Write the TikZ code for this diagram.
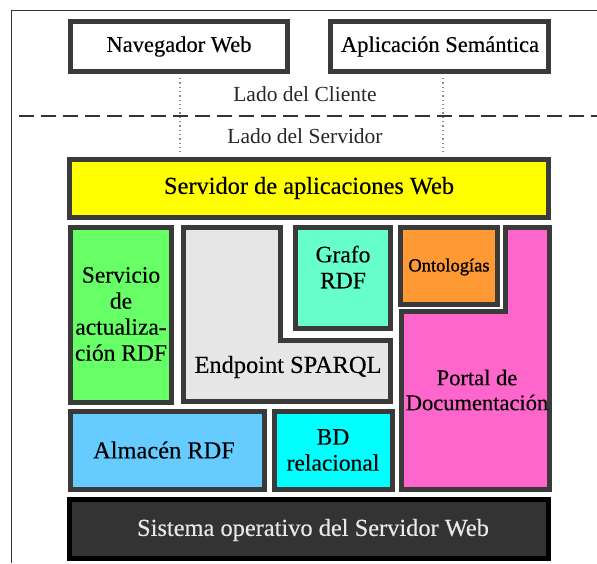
\documentclass[tikz,border=0pt]{standalone}
\usepackage{fontspec}
\setmainfont{Liberation Serif}
\newfontfamily\labelfont{Liberation Serif}[FakeBold=0.35]
\newfontfamily\heavyfont{Liberation Serif}[FakeBold=1.1]
\definecolor{edge}{HTML}{3A3A3A}
\definecolor{appyellow}{HTML}{FFFF00}
\definecolor{updgreen}{HTML}{66FF66}
\definecolor{endgray}{HTML}{E6E6E6}
\definecolor{graphmint}{HTML}{66FFCC}
\definecolor{ontorange}{HTML}{FF9933}
\definecolor{portalpink}{HTML}{FF66CC}
\definecolor{storeblue}{HTML}{66CCFF}
\definecolor{dbcyan}{HTML}{00FFFF}
\definecolor{osfill}{HTML}{333333}
\definecolor{ostext}{HTML}{E8E8E8}
\begin{document}
\begin{tikzpicture}[x=1pt,y=-1pt,
  blk/.style={draw=edge, line width=5pt, line join=miter},
  lbl/.style={font=\labelfont\fontsize{23.5}{26}\selectfont, align=center, inner sep=0pt, text=black},
  biglbl/.style={lbl, font=\labelfont\fontsize{24.4}{26}\selectfont},
  toplbl/.style={font=\labelfont\fontsize{22.5}{26}\selectfont, align=center, inner sep=0pt},
  sidelbl/.style={font=\fontsize{21.5}{24}\selectfont, inner sep=0pt, text=black!85},
  dotline/.style={draw=black!45, line width=1.4pt, dash pattern=on 1.3pt off 3pt},
]
\useasboundingbox (0,0) rectangle (597,563);

% outer frame (only left and top edges fall inside the page)
\draw[line width=1.3pt, draw=black!80] (11.5,563) -- (11.5,10.5) -- (597,10.5);

% client side
\draw[blk, fill=white] (70.5,21.5) rectangle (287.5,71.5);
\node[toplbl] (nav) at (179,46.5) {Navegador Web};
\draw[blk, fill=white] (330.5,21.5) rectangle (548.5,71.5);
\node[toplbl] (app) at (440,46.5) {Aplicación Semántica};

% client / server split
\coordinate (navlow) at (180,78);
\coordinate (navend) at (180,154);
\coordinate (applow) at (443,78);
\coordinate (append) at (443,154);
\draw[dotline] (navlow) -- (navend);
\draw[dotline] (applow) -- (append);
\coordinate (splitL) at (19,116);
\coordinate (splitR) at (597,116);
\draw[draw=black!80, line width=2.8pt, dash pattern=on 15pt off 7pt] (splitL) -- (splitR);
\node[sidelbl] (client) at (305,94) {Lado del Cliente};
\node[sidelbl] (server) at (305,136) {Lado del Servidor};

% web application server
\draw[blk, fill=appyellow] (69.5,159.5) rectangle (548.5,217.5);
\node[biglbl] (appsrv) at (309,188) {Servidor de aplicaciones Web};

% RDF update service
\draw[blk, fill=updgreen] (70.5,227.5) rectangle (171.5,402.5);
\node[lbl] (update) at (121,314) {Servicio\\de\\actualiza-\\ción RDF};

% SPARQL endpoint (L-shaped around the RDF graph)
\draw[blk, fill=endgray] (183.5,227.5) -- (280.5,227.5) -- (280.5,340.5)
  -- (390.5,340.5) -- (390.5,401.5) -- (183.5,401.5) -- cycle;
\node[biglbl] (sparql) at (288,367) {Endpoint SPARQL};

% RDF graph
\draw[blk, fill=graphmint] (295.5,227.5) rectangle (390.5,328.5);
\node[lbl] (graph) at (343,267) {Grafo\\RDF};

% ontologies
\draw[blk, fill=ontorange] (400.5,227.5) rectangle (497.5,304.5);
\node[lbl, font=\heavyfont\fontsize{18.5}{22}\selectfont] (onto) at (449,267) {Ontologías};

% documentation portal (L-shaped under the ontologies)
\draw[blk, fill=portalpink] (401.5,311.5) -- (505.5,311.5) -- (505.5,227.5)
  -- (549.5,227.5) -- (549.5,489.5) -- (401.5,489.5) -- cycle;
\node[lbl, font=\labelfont\fontsize{22.5}{25}\selectfont] (portal) at (477,390) {Portal de\\Documentación};

% RDF store
\draw[blk, fill=storeblue] (70.5,411.5) rectangle (264.5,489.5);
\node[biglbl] (store) at (164,450) {Almacén RDF};

% relational database
\draw[blk, fill=dbcyan] (274.5,411.5) rectangle (392.5,489.5);
\node[lbl] (rdb) at (333,450) {BD\\relacional};

% web server operating system
\draw[draw=black, line width=5pt, fill=osfill] (69.5,499.5) rectangle (548.5,558.5);
\node[biglbl, text=ostext] (os) at (313,530) {Sistema operativo del Servidor Web};
\end{tikzpicture}
\end{document}
